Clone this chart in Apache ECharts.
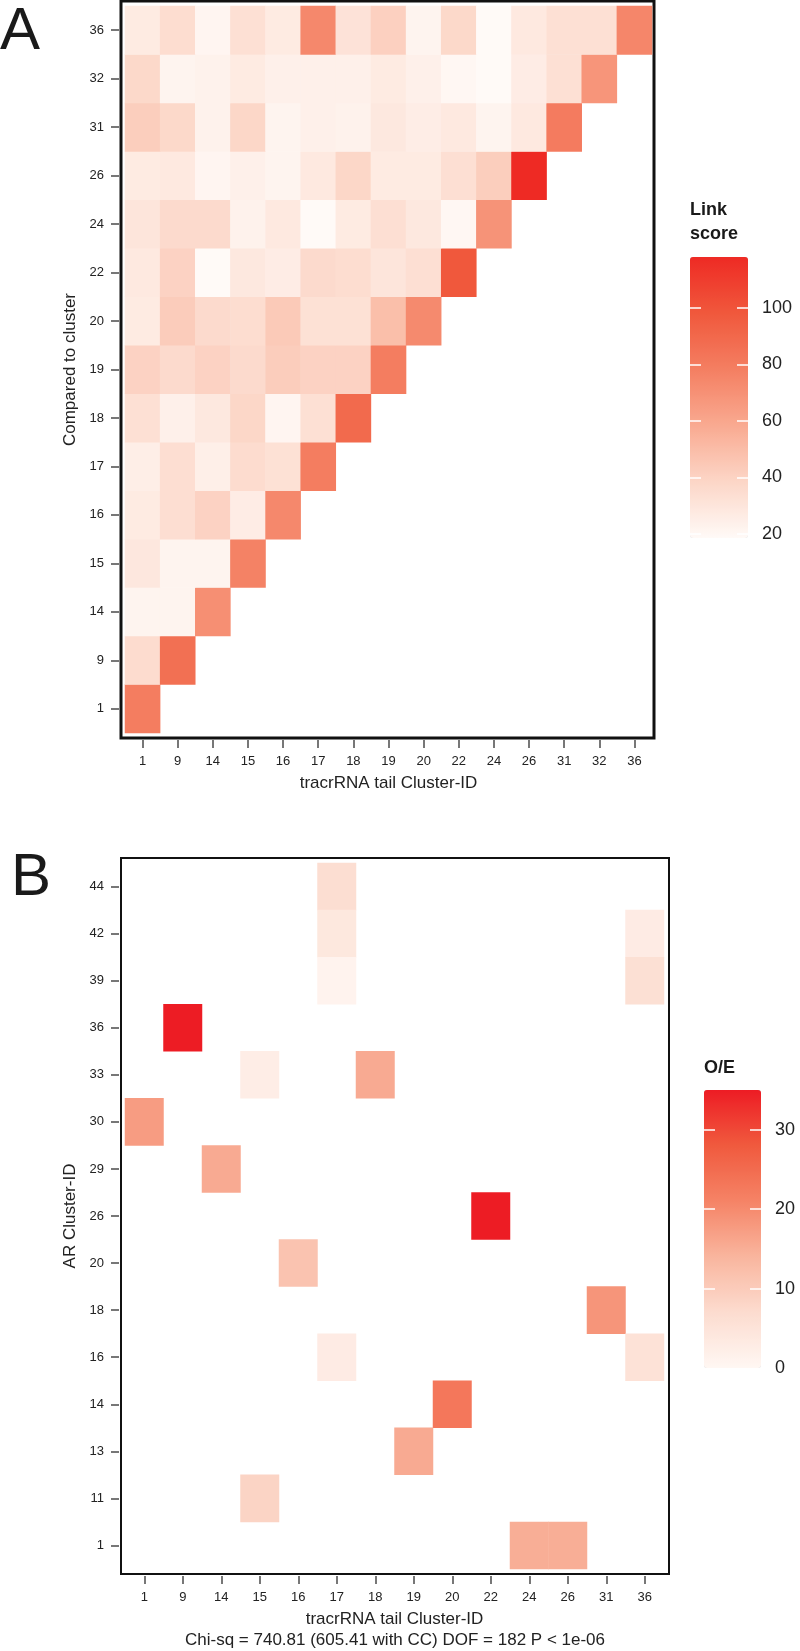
<!DOCTYPE html>
<html>
<head>
<meta charset="utf-8">
<script src="https://cdn.jsdelivr.net/npm/echarts@6/dist/echarts.min.js"></script>
<style>
html,body{margin:0;padding:0;background:#fff;}
#chart{width:800px;height:1651px;}
</style>
</head>
<body>
<div id="chart"></div>
<script>
// ---------- Panel A data ----------
const clustersA = ['1','9','14','15','16','17','18','19','20','22','24','26','31','32','36'];
// rows listed from bottom (cluster 1) to top (cluster 36); row k holds columns 1..k
const linkScores = [
  [79],
  [35, 86],
  [22, 22, 71],
  [29, 22, 22, 77],
  [27, 34, 40, 26, 74],
  [25, 34, 24.6, 35, 32.5, 79],
  [33, 24, 28.5, 38, 21, 33, 89],
  [40, 36, 40, 36, 42.5, 40, 40, 79],
  [27, 43, 36, 34.5, 44, 32.5, 32.5, 49, 73],
  [28, 40, 18.5, 28.5, 26, 36, 34.5, 30, 33.5, 98],
  [30, 36, 36, 23, 28, 18.5, 27, 33.5, 28.5, 20, 69],
  [27, 28, 21, 24, 22, 28, 38, 27, 27, 33.5, 42, 118],
  [42, 37, 23, 38, 22, 24, 23, 28.5, 25.5, 28, 22, 28, 80],
  [37, 22, 23, 27, 24, 24, 24, 27, 24, 20, 18.5, 26, 33, 68],
  [27, 34.6, 21, 33, 27, 74, 31.5, 41, 22, 37, 18.5, 28, 33, 33, 75]
];
const linkTicks = [20, 40, 60, 80, 100];

// ---------- Panel B data ----------
const tracrB = ['1','9','14','15','16','17','18','19','20','22','24','26','31','36'];
const arB = ['1','11','13','14','16','18','20','26','29','30','33','36','39','42','44'];
// [tracrRNA tail cluster, AR cluster, O/E]
const oeCells = [
  ['17','44',6.5], ['17','42',4], ['17','39',1],
  ['36','42',3], ['36','39',6],
  ['9','36',35],
  ['15','33',2.5], ['18','33',15.5],
  ['1','30',17.5],
  ['14','29',15.5],
  ['22','26',35],
  ['16','20',11.5],
  ['31','18',18.5],
  ['17','16',3], ['36','16',5.5],
  ['20','14',23],
  ['19','13',15.5],
  ['15','11',8.5],
  ['24','1',15], ['26','1',15]
];
const oeTicks = [0, 10, 20, 30];
const chiText = 'Chi-sq = 740.81 (605.41 with CC) DOF = 182 P < 1e-06';

// ---------- build ----------
const heatA = [];
linkScores.forEach((row, yi) => row.forEach((v, xi) => heatA.push([xi, yi, v])));
const heatB = oeCells.map(c => [tracrB.indexOf(c[0]), arB.indexOf(c[1]), c[2]]);

const FONT = 'Liberation Sans, Arial, Helvetica, sans-serif';
function tickStyle(){ return {show: true, inside: false, length: 8, alignWithLabel: true, interval: 0, lineStyle: {color: '#777', width: 2}}; }
function lblStyle(){ return {show: true, interval: 0, margin: 15, fontSize: 13, color: '#222', fontFamily: FONT}; }
const nameStyle = {fontSize: 17, color: '#222', fontFamily: FONT};

function dataX(grid, cats, name){
  return {gridIndex: grid, type: 'category', data: cats, position: 'bottom', offset: 7,
    axisLine: {show: true, lineStyle: {color: 'rgba(0,0,0,0)', width: 0}}, axisTick: tickStyle(), axisLabel: lblStyle(),
    splitLine: {show: false}, name: name, nameLocation: 'middle', nameGap: 35, nameTextStyle: nameStyle};
}
function dataY(grid, cats, name){
  return {gridIndex: grid, type: 'category', data: cats, position: 'left', offset: 6,
    axisLine: {show: true, lineStyle: {color: 'rgba(0,0,0,0)', width: 0}}, axisTick: tickStyle(), axisLabel: lblStyle(),
    splitLine: {show: false}, name: name, nameLocation: 'middle', nameGap: 36, nameTextStyle: nameStyle};
}
function legendY(grid, min, max, ticks, side){
  return {gridIndex: grid, type: 'value', min: min, max: max, position: side, z: 10,
    axisLine: {show: false}, splitLine: {show: false},
    axisTick: {show: true, inside: true, length: 11, customValues: ticks.filter(t => t > min + 1),
      lineStyle: {color: '#fff', width: 1.5}},
    axisLabel: side === 'right'
      ? {show: true, customValues: ticks, margin: 14, fontSize: 18, color: '#222', fontFamily: FONT}
      : {show: false}};
}
function frameAxes(grid){
  return [{gridIndex: grid, type: 'value', show: false}, {gridIndex: grid, type: 'value', show: false}];
}

const fA = frameAxes(0), fB = frameAxes(3);

const option = {
  animation: false,
  textStyle: {fontFamily: FONT},
  grid: [
    {left: 121, top: 1, width: 533, height: 737, show: true, borderColor: '#111', borderWidth: 3, backgroundColor: 'transparent'},
    {left: 125, top: 6, width: 527, height: 727},
    {left: 690, top: 257, width: 58, height: 281},
    {left: 121, top: 858, width: 548, height: 716, show: true, borderColor: '#111', borderWidth: 2, backgroundColor: 'transparent'},
    {left: 125, top: 863, width: 539, height: 706},
    {left: 704, top: 1090, width: 57, height: 278}
  ],
  xAxis: [
    fA[0],
    dataX(1, clustersA, 'tracrRNA tail Cluster-ID'),
    {gridIndex: 2, type: 'category', data: [''], show: false},
    fB[0],
    dataX(4, tracrB, 'tracrRNA tail Cluster-ID'),
    {gridIndex: 5, type: 'category', data: [''], show: false}
  ],
  yAxis: [
    fA[1],
    dataY(1, clustersA, 'Compared to cluster'),
    legendY(2, 18.5, 118, linkTicks, 'left'),
    legendY(2, 18.5, 118, linkTicks, 'right'),
    fB[1],
    dataY(4, arB, 'AR Cluster-ID'),
    legendY(5, 0, 35, oeTicks, 'left'),
    legendY(5, 0, 35, oeTicks, 'right')
  ],
  visualMap: [
    {type: 'continuous', seriesIndex: 0, dimension: 2, min: 18.5, max: 118,
     left: 690, top: 257, itemWidth: 58, itemHeight: 281, padding: 0,
     calculable: false, hoverLink: false, showLabel: false,
     inRange: {color: ['#FFFAF7', '#FCD6C7', '#F9AA91', '#F47F62', '#F0583C', '#EE2A24']}},
    {type: 'continuous', seriesIndex: 1, dimension: 2, min: 0, max: 35,
     left: 704, top: 1090, itemWidth: 57, itemHeight: 278, padding: 0,
     calculable: false, hoverLink: false, showLabel: false,
     inRange: {color: ['#FFF7F3', '#FCDCCF', '#F9B59E', '#F58366', '#F05A3E', '#ED1C24']}}
  ],
  series: [
    {type: 'heatmap', xAxisIndex: 1, yAxisIndex: 1, data: heatA,
     itemStyle: {borderWidth: 0}, emphasis: {disabled: true}},
    {type: 'heatmap', xAxisIndex: 4, yAxisIndex: 5, data: heatB,
     itemStyle: {borderWidth: 0}, emphasis: {disabled: true}}
  ],
  graphic: [
    {type: 'text', x: 0, y: 32, style: {text: 'A', fontSize: 60, fontFamily: FONT, fill: '#1a1a1a', verticalAlign: 'middle'}},
    {type: 'text', x: 11, y: 878, style: {text: 'B', fontSize: 60, fontFamily: FONT, fill: '#1a1a1a', verticalAlign: 'middle'}},
    {type: 'text', x: 690, y: 210, style: {text: 'Link', fontSize: 18, fontWeight: 'bold', fontFamily: FONT, fill: '#1a1a1a', verticalAlign: 'middle'}},
    {type: 'text', x: 690, y: 234, style: {text: 'score', fontSize: 18, fontWeight: 'bold', fontFamily: FONT, fill: '#1a1a1a', verticalAlign: 'middle'}},
    {type: 'text', x: 704, y: 1068, style: {text: 'O/E', fontSize: 18, fontWeight: 'bold', fontFamily: FONT, fill: '#1a1a1a', verticalAlign: 'middle'}},
    {type: 'text', x: 395, y: 1640, style: {text: chiText, fontSize: 17, fontFamily: FONT, fill: '#222', align: 'center', verticalAlign: 'middle'}}
  ]
};

const chart = echarts.init(document.getElementById('chart'), null, {renderer: 'canvas'});
chart.setOption(option);
</script>
</body>
</html>
